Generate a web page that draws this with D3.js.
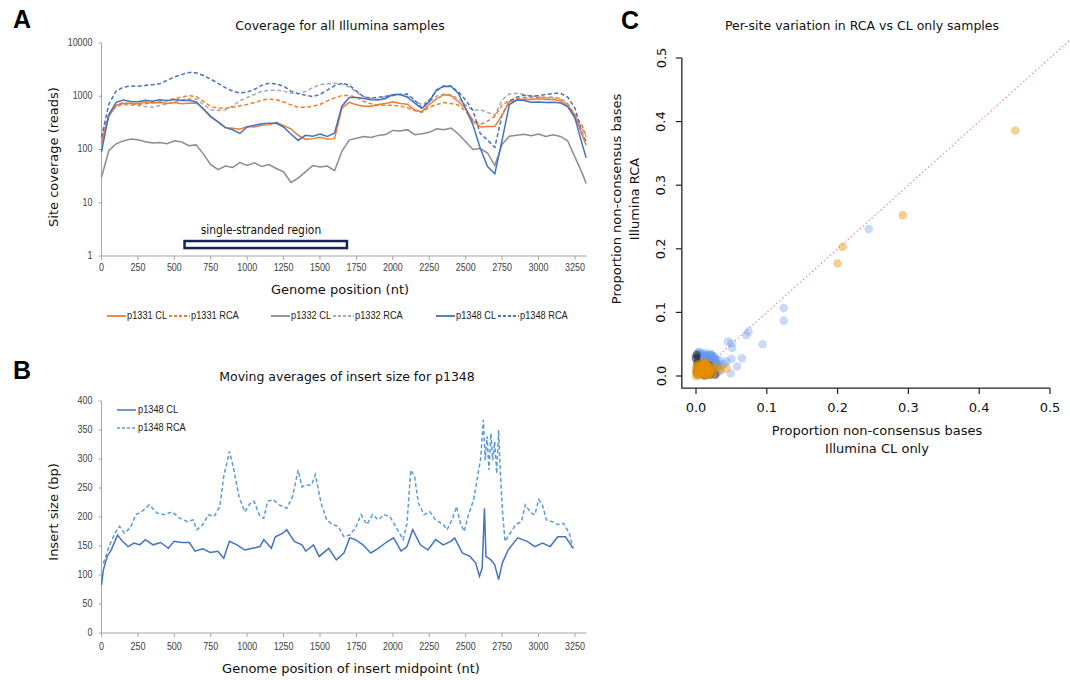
<!DOCTYPE html>
<html>
<head>
<meta charset="utf-8">
<script src="https://cdn.jsdelivr.net/npm/d3@7"></script>
<style>
  body { margin: 0; background: #fff; }
</style>
</head>
<body>
<div id="chart"></div>
<script>
// Panel A: coverage (reads) along the genome
const positionsA = [0,50,100,150,200,250,300,350,400,450,500,550,600,650,700,750,800,850,900,950,
  1000,1050,1100,1150,1200,1250,1300,1350,1400,1450,1500,1550,1600,1650,1700,1750,1800,1850,1900,1950,
  2000,2050,2100,2150,2200,2250,2300,2350,2400,2450,2500,2550,2600,2650,2700,2750,2800,2850,2900,2950,
  3000,3050,3100,3150,3200,3250,3300,3327];
const p1331CL = [128,420,670,730,735,720,780,750,760,735,765,720,735,750,590,420,330,255,250,240,
  270,265,285,290,325,280,245,185,155,160,170,158,160,600,770,690,650,650,700,730,
  790,730,710,550,510,700,890,1070,1020,790,590,340,265,270,270,440,790,840,880,870,
  900,870,870,810,650,440,185,120];
const p1331RCA = [170,450,680,760,720,700,720,760,790,840,900,960,1030,990,800,640,600,590,620,660,
  700,760,840,890,860,780,690,620,620,650,700,820,930,1030,1030,960,800,720,680,680,
  680,650,610,540,500,620,700,760,730,680,520,360,295,340,420,680,840,900,940,950,
  960,950,960,900,720,450,280,180];
const p1332CL = [30,95,128,145,158,152,140,132,136,128,146,138,118,122,82,52,42,49,46,57,
  50,56,48,52,44,38,24,29,38,50,47,49,40,92,150,162,176,168,184,192,
  228,222,236,190,198,210,244,236,252,196,140,100,104,86,50,125,178,186,194,182,
  196,176,190,176,146,72,36,23];
const p1332RCA = [150,450,640,700,680,670,640,620,670,720,780,850,900,880,700,560,540,560,660,820,
  950,1080,1240,1290,1300,1250,1150,1120,1230,1450,1650,1700,1750,1700,1480,1200,980,900,880,980,
  1090,1060,1000,800,700,800,1000,1100,1060,900,680,540,560,500,440,850,1100,1140,1080,1000,
  980,930,900,880,700,420,250,170];
const p1348CL = [90,450,770,850,800,790,840,810,860,820,870,830,840,780,570,410,330,260,235,200,
  265,285,305,310,310,265,195,148,185,178,195,175,205,650,950,950,910,860,850,910,
  1070,1090,960,740,590,790,1320,1540,1520,1130,590,290,105,48,35,150,700,850,830,770,
  780,760,770,750,640,390,125,70];
const p1348RCA = [170,700,1250,1480,1560,1540,1600,1650,1720,2000,2300,2550,2800,2750,2450,2100,1750,1450,1250,1150,
  1200,1350,1600,1760,1700,1550,1250,1120,1050,990,1080,1300,1580,1750,1620,1250,980,920,960,1000,
  1030,1080,1100,850,600,850,1270,1560,1560,1200,850,540,200,150,110,450,800,960,1040,1010,
  1030,1080,1120,1140,960,600,200,140];
const xTicksA = [0,250,500,750,1000,1250,1500,1750,2000,2250,2500,2750,3000,3250];
const yTicksA = [1,10,100,1000,10000];
const ssRegion = [570, 1685];

// Panel B: insert size moving averages for p1348
const insertPosCL = [0,13,39,66,92,110,144,183,223,262,301,354,406,459,498,550,603,642,695,747,
  799,839,878,930,983,1035,1088,1114,1166,1193,1245,1271,1324,1376,1402,1455,1494,1560,1612,1664,
  1704,1743,1795,1848,1900,1953,2005,2057,2097,2136,2189,2241,2293,2346,2398,2424,2477,2529,2568,2595,
  2613,2629,2639,2673,2699,2726,2752,2791,2857,2922,2975,3027,3080,3132,3185,3237];
const insertCL = [83,109,132,143,158,169,158,149,155,152,161,152,156,146,158,156,156,141,145,139,
  141,129,158,152,143,146,149,161,146,166,172,178,158,152,141,152,132,146,126,138,
  164,161,152,138,146,156,164,141,149,178,152,143,161,152,158,164,138,132,121,98,
  112,215,132,126,118,92,121,143,164,158,149,155,149,166,166,146];
const insertPosRCA = [13,52,92,123,157,197,236,275,328,380,432,485,537,590,629,655,695,734,773,812,
  839,865,878,904,944,983,1022,1048,1088,1114,1140,1179,1219,1271,1311,1350,1376,1402,1442,1468,
  1507,1546,1586,1625,1664,1704,1743,1782,1822,1861,1900,1940,1979,2018,2071,2097,2123,2149,2175,2215,
  2254,2293,2346,2372,2411,2437,2464,2490,2516,2555,2582,2603,2621,2634,2647,2660,2673,2686,2699,2713,
  2726,2739,2752,2770,2805,2844,2883,2909,2948,2975,3001,3027,3054,3093,3132,3172,3211,3237];
const insertRCA = [120,149,172,184,172,181,204,209,221,207,204,209,198,192,195,178,187,204,201,218,
  270,298,313,287,235,209,224,227,201,198,227,230,221,215,235,281,252,255,255,273,
  224,195,187,184,166,169,181,204,187,204,195,204,201,184,161,189,281,270,224,204,
  209,195,187,178,198,218,189,175,201,230,270,301,367,298,339,281,344,298,330,275,
  350,270,212,158,172,187,192,221,207,204,230,221,195,192,187,189,172,146];
const yTicksB = [0,50,100,150,200,250,300,350,400];

// Panel C: proportion non-consensus bases, CL only (x) vs RCA (y)
const blueX = [0.244,0.124,0.124,0.094,0.074,0.071,0.045,0.050,0.051,0.065,0.058,0.049,0.050,0.043,0.040,0.029,0.025,0.004,0.020,
  0.000,0.002,0.004,0.006,0.008,0.010,0.012,0.014,0.016,0.018,0.020,0.022,0.024,0.026,0.028,0.030,0.003,0.007,0.011,0.015,
  0.019,0.023,0.027,0.031,0.025,0.021,0.029,0.017,0.033,0.036,0.001,0.005,0.009,0.013,0.024,0.034,
  0.005,0.009,0.013,0.017,0.021,0.025,0.003,0.011,0.019,0.027,0.032,0.015];
const blueY = [0.231,0.107,0.087,0.050,0.070,0.064,0.054,0.051,0.044,0.028,0.015,0.004,0.027,0.023,0.019,0.026,0.030,0.038,0.033,
  0.030,0.036,0.033,0.031,0.034,0.029,0.032,0.030,0.027,0.031,0.028,0.033,0.026,0.029,0.024,0.020,0.025,0.022,0.024,0.022,
  0.020,0.018,0.015,0.012,0.010,0.006,0.005,0.003,0.025,0.018,0.015,0.010,0.018,0.014,0.022,0.008,
  0.037,0.035,0.036,0.033,0.035,0.031,0.028,0.027,0.024,0.020,0.016,0.033];
const blackX = [0.001,0.000,0.002,0.003,0.001,0.012,0.020,0.027,0.015,0.008,0.022,0.018];
const blackY = [0.033,0.028,0.020,0.012,0.006,0.001,0.002,0.002,0.010,0.004,0.009,0.017];
const orangeX = [0.451,0.292,0.207,0.200,0.043,0.030,0.035,0.026,0.024,
  0.000,0.002,0.004,0.006,0.008,0.010,0.012,0.014,0.016,0.018,0.020,0.022,0.003,0.005,0.007,0.009,
  0.011,0.013,0.015,0.017,0.019,0.001,0.006,0.010,0.021,
  0.001,0.003,0.005,0.007,0.009,0.011,0.013,0.015,0.017,0.019,0.002,0.004,0.008,0.012,0.016,0.006,0.010,0.014,0.018,0.000];
const orangeY = [0.386,0.253,0.203,0.177,0.012,0.014,0.010,0.012,0.005,
  0.000,0.004,0.008,0.012,0.016,0.019,0.021,0.018,0.014,0.010,0.006,0.003,0.014,0.018,0.006,0.010,
  0.003,0.008,0.004,0.002,0.013,0.009,0.002,0.014,0.011,
  0.002,0.006,0.010,0.014,0.017,0.020,0.016,0.012,0.008,0.004,0.018,0.001,0.007,0.011,0.019,0.015,0.005,0.001,0.016,0.012];
const ticksC = [0,0.1,0.2,0.3,0.4,0.5];

const SANS = "'DejaVu Sans', Verdana, sans-serif";
const NARROW = "'Liberation Sans Narrow', 'Liberation Sans', Arial, sans-serif";
const BOLD = "'Liberation Sans', Arial, sans-serif";
const orange = '#ed7d31', gray = '#8c8c8c', grayLight = '#a9a9a9', blue = '#4472c4', blueLight = '#5b9bd5';
const axisGray = '#a6a6a6', labelGray = '#404040';

const svg = d3.select('#chart').append('svg')
  .attr('width', 1070).attr('height', 680)
  .style('background', '#fff');

function addText(x, y, txt, opts) {
  const t = svg.append('text')
    .attr('x', x).attr('y', y)
    .attr('text-anchor', opts.anchor || 'middle')
    .attr('dominant-baseline', 'middle')
    .style('font-family', opts.font || SANS)
    .style('font-size', opts.size + 'px')
    .style('fill', opts.fill || '#111')
    .text(txt);
  if (opts.weight) t.style('font-weight', opts.weight);
  if (opts.rotate) t.attr('transform', `rotate(-90,${x},${y})`);
  if (opts.squeeze) {
    // narrow Excel-style labels
    const w = t.node().getComputedTextLength();
    t.attr('textLength', w * opts.squeeze).attr('lengthAdjust', 'spacingAndGlyphs');
  }
  return t;
}

// ---------- Panel A ----------
const xA = d3.scaleLinear().domain([0, 3330]).range([101.5, 586.6]);
const yA = d3.scaleLog().domain([1, 10000]).range([256, 43]);

addText(22, 21, 'A', { size: 25, weight: 'bold', font: BOLD, fill: '#000' });
addText(340, 26, 'Coverage for all Illumina samples', { size: 12.5 });

svg.append('line').attr('x1', xA(0)).attr('x2', xA(0)).attr('y1', yA(10000)).attr('y2', yA(1))
  .attr('stroke', axisGray);
svg.append('line').attr('x1', xA(0)).attr('x2', xA(3330)).attr('y1', yA(1)).attr('y2', yA(1))
  .attr('stroke', axisGray);
yTicksA.forEach(v => {
  svg.append('line').attr('x1', xA(0) - 3).attr('x2', xA(0)).attr('y1', yA(v)).attr('y2', yA(v)).attr('stroke', axisGray);
  addText(xA(0) - 9, yA(v), String(v), { size: 10.5, anchor: 'end', font: NARROW, fill: labelGray, squeeze: 0.85 });
});
xTicksA.forEach(v => {
  svg.append('line').attr('x1', xA(v)).attr('x2', xA(v)).attr('y1', yA(1)).attr('y2', yA(1) + 4).attr('stroke', axisGray);
  addText(xA(v), 268, String(v), { size: 10.5, font: NARROW, fill: labelGray, squeeze: 0.85 });
});
addText(54, 157, 'Site coverage (reads)', { size: 13, rotate: true });
addText(340, 290, 'Genome position (nt)', { size: 13 });

const seriesA = [
  { name: 'p1332 RCA', values: p1332RCA, color: grayLight, dash: '4,2.5' },
  { name: 'p1331 RCA', values: p1331RCA, color: orange, dash: '4,2.5' },
  { name: 'p1348 RCA', values: p1348RCA, color: blue, dash: '4,2.5' },
  { name: 'p1332 CL', values: p1332CL, color: gray, dash: null },
  { name: 'p1331 CL', values: p1331CL, color: orange, dash: null },
  { name: 'p1348 CL', values: p1348CL, color: blue, dash: null }
];
const lineA = d3.line().x(d => xA(d[0])).y(d => yA(d[1]));
seriesA.forEach(s => {
  svg.append('path')
    .datum(positionsA.map((p, i) => [p, s.values[i]]))
    .attr('d', lineA)
    .attr('fill', 'none')
    .attr('stroke', s.color)
    .attr('stroke-width', 1.5)
    .attr('stroke-dasharray', s.dash);
});

// single-stranded region marker
svg.append('rect')
  .attr('x', xA(ssRegion[0])).attr('y', yA(1.91))
  .attr('width', xA(ssRegion[1]) - xA(ssRegion[0]))
  .attr('height', yA(1.41) - yA(1.91))
  .attr('fill', '#fff').attr('stroke', '#14245a').attr('stroke-width', 2.5);
addText(261, 230, 'single-stranded region', { size: 11.5, font: SANS, squeeze: 0.93 });

// legend A
const legendGroups = [
  { x: 107, cl: 'p1331 CL', rca: 'p1331 RCA', c1: orange, c2: orange },
  { x: 271, cl: 'p1332 CL', rca: 'p1332 RCA', c1: gray, c2: grayLight },
  { x: 436, cl: 'p1348 CL', rca: 'p1348 RCA', c1: blue, c2: blue }
];
legendGroups.forEach(g => {
  svg.append('line').attr('x1', g.x).attr('x2', g.x + 19).attr('y1', 316).attr('y2', 316)
    .attr('stroke', g.c1).attr('stroke-width', 1.8);
  addText(g.x + 20, 316, g.cl, { size: 11, anchor: 'start', font: NARROW, fill: '#222', squeeze: 0.84 });
  svg.append('line').attr('x1', g.x + 62).attr('x2', g.x + 83).attr('y1', 316).attr('y2', 316)
    .attr('stroke', g.c2).attr('stroke-width', 1.8).attr('stroke-dasharray', '3,2');
  addText(g.x + 84, 316, g.rca, { size: 11, anchor: 'start', font: NARROW, fill: '#222', squeeze: 0.84 });
});

// ---------- Panel B ----------
const xB = d3.scaleLinear().domain([0, 3330]).range([101.5, 586.6]);
const yB = d3.scaleLinear().domain([0, 400]).range([633, 401]);

addText(22, 372, 'B', { size: 25, weight: 'bold', font: BOLD, fill: '#000' });
addText(347, 377, 'Moving averages of insert size for p1348', { size: 12.5 });

svg.append('line').attr('x1', xB(0)).attr('x2', xB(0)).attr('y1', yB(400)).attr('y2', yB(0)).attr('stroke', axisGray);
svg.append('line').attr('x1', xB(0)).attr('x2', xB(3330)).attr('y1', yB(0)).attr('y2', yB(0)).attr('stroke', axisGray);
yTicksB.forEach(v => {
  svg.append('line').attr('x1', xB(0) - 3).attr('x2', xB(0)).attr('y1', yB(v)).attr('y2', yB(v)).attr('stroke', axisGray);
  addText(xB(0) - 9, yB(v), String(v), { size: 10.5, anchor: 'end', font: NARROW, fill: labelGray, squeeze: 0.85 });
});
xTicksA.forEach(v => {
  svg.append('line').attr('x1', xB(v)).attr('x2', xB(v)).attr('y1', yB(0)).attr('y2', yB(0) + 4).attr('stroke', axisGray);
  addText(xB(v), 647, String(v), { size: 10.5, font: NARROW, fill: labelGray, squeeze: 0.85 });
});
addText(54, 512, 'Insert size (bp)', { size: 13, rotate: true });
addText(351, 669, 'Genome position of insert midpoint (nt)', { size: 13 });

const lineB = d3.line().x(d => xB(d[0])).y(d => yB(d[1]));
svg.append('path')
  .datum(insertPosRCA.map((p, i) => [p, insertRCA[i]]))
  .attr('d', lineB).attr('fill', 'none')
  .attr('stroke', blueLight).attr('stroke-width', 1.5).attr('stroke-dasharray', '4,2.5');
svg.append('path')
  .datum(insertPosCL.map((p, i) => [p, insertCL[i]]))
  .attr('d', lineB).attr('fill', 'none')
  .attr('stroke', blue).attr('stroke-width', 1.5);

svg.append('line').attr('x1', 117).attr('x2', 136).attr('y1', 410).attr('y2', 410)
  .attr('stroke', blue).attr('stroke-width', 1.5);
addText(138, 410, 'p1348 CL', { size: 11, anchor: 'start', font: NARROW, fill: '#222', squeeze: 0.84 });
svg.append('line').attr('x1', 117).attr('x2', 136).attr('y1', 428).attr('y2', 428)
  .attr('stroke', blueLight).attr('stroke-width', 1.5).attr('stroke-dasharray', '3,2');
addText(138, 428, 'p1348 RCA', { size: 11, anchor: 'start', font: NARROW, fill: '#222', squeeze: 0.84 });

// ---------- Panel C ----------
const xC = d3.scaleLinear().domain([0, 0.5]).range([696, 1050]);
const yC = d3.scaleLinear().domain([0, 0.5]).range([376, 58]);

addText(630, 22, 'C', { size: 25, weight: 'bold', font: BOLD, fill: '#000' });
addText(862, 26, 'Per-site variation in RCA vs CL only samples', { size: 12.5 });

svg.append('path')
  .attr('d', `M${xC(-0.02)},${yC(0.5)}V${yC(-0.019)}H${xC(0.5)}`)
  .attr('fill', 'none').attr('stroke', '#222').attr('stroke-width', 1.3);
ticksC.forEach(v => {
  svg.append('line').attr('x1', xC(v)).attr('x2', xC(v)).attr('y1', yC(-0.019)).attr('y2', yC(-0.019) + 6)
    .attr('stroke', '#222').attr('stroke-width', 1.2);
  addText(xC(v), 408, v.toFixed(1), { size: 13, fill: '#111' });
  svg.append('line').attr('x1', xC(-0.02) - 6).attr('x2', xC(-0.02)).attr('y1', yC(v)).attr('y2', yC(v))
    .attr('stroke', '#222').attr('stroke-width', 1.2);
  addText(662, yC(v), v.toFixed(1), { size: 13, fill: '#111', rotate: true });
});
addText(877, 431, 'Proportion non-consensus bases', { size: 13 });
addText(877, 449, 'Illumina CL only', { size: 13 });
addText(617, 199, 'Proportion non-consensus bases', { size: 13, rotate: true });
addText(635, 199, 'Illumina RCA', { size: 13, rotate: true });

svg.append('line')
  .attr('x1', xC(0)).attr('y1', yC(0)).attr('x2', xC(0.53)).attr('y2', yC(0.53))
  .attr('stroke', '#f08080').attr('stroke-width', 1.1).attr('stroke-dasharray', '1.5,2.5');

function drawPoints(xs, ys, fill, opacity) {
  svg.append('g').selectAll('circle')
    .data(xs.map((x, i) => [x, ys[i]]))
    .enter()
    .append('circle')
    .attr('cx', d => xC(d[0]))
    .attr('cy', d => yC(d[1]))
    .attr('r', 4.3)
    .attr('fill', fill)
    .attr('fill-opacity', opacity);
}
drawPoints(blueX, blueY, '#6495ed', 0.35);
drawPoints(blackX, blackY, '#1a1a1a', 0.5);
drawPoints(orangeX, orangeY, '#e69000', 0.42);
</script>
</body>
</html>
